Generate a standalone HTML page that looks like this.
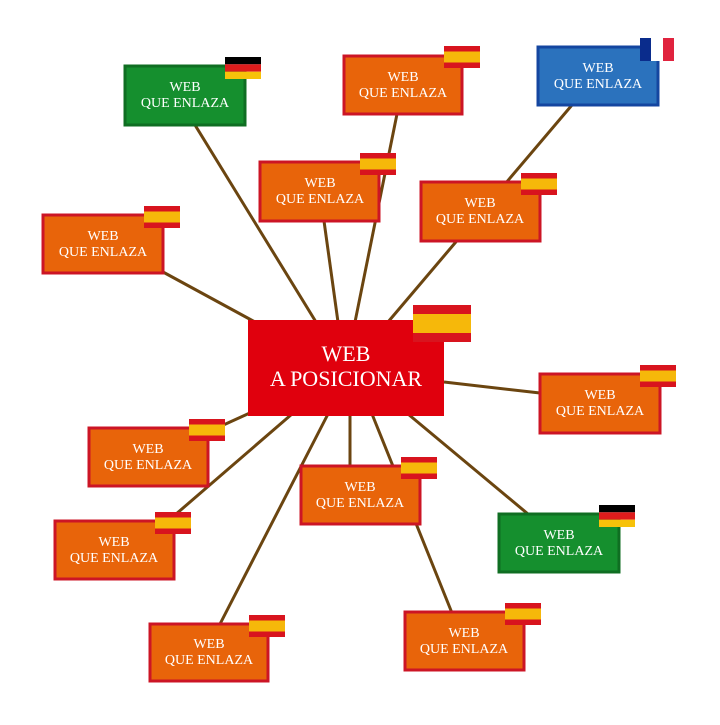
<!DOCTYPE html>
<html><head><meta charset="utf-8"><style>
body{margin:0;background:#fff;width:720px;height:720px;overflow:hidden}
svg text{font-family:"Liberation Serif",serif;fill:#fff;text-anchor:middle}
</style></head><body>
<svg width="720" height="720" viewBox="0 0 720 720" xmlns="http://www.w3.org/2000/svg">
<g stroke="#6b4510" stroke-width="3" fill="none">
<line x1="195" y1="125" x2="316" y2="322"/>
<line x1="397" y1="114" x2="355" y2="322"/>
<line x1="572" y1="105" x2="388" y2="322"/>
<line x1="324" y1="221" x2="338" y2="322"/>
<line x1="163" y1="272" x2="255" y2="322"/>
<line x1="540" y1="393" x2="444" y2="382"/>
<line x1="208" y1="432" x2="252" y2="412"/>
<line x1="350" y1="466" x2="350" y2="414"/>
<line x1="372" y1="414" x2="452" y2="613"/>
<line x1="408" y1="414" x2="528" y2="514"/>
<line x1="168" y1="521" x2="292" y2="414"/>
<line x1="220" y1="624" x2="328" y2="414"/>
</g>
<g stroke-width="3">
<rect x="125" y="66" width="120" height="59" fill="#158f2e" stroke="#0f6e22"/>
<rect x="344" y="56" width="118" height="58" fill="#e8640a" stroke="#cc1525"/>
<rect x="538" y="47" width="120" height="58" fill="#2b72bd" stroke="#1446a0"/>
<rect x="260" y="162" width="119" height="59" fill="#e8640a" stroke="#cc1525"/>
<rect x="421" y="182" width="119" height="59" fill="#e8640a" stroke="#cc1525"/>
<rect x="43" y="215" width="120" height="58" fill="#e8640a" stroke="#cc1525"/>
<rect x="540" y="374" width="120" height="59" fill="#e8640a" stroke="#cc1525"/>
<rect x="89" y="428" width="119" height="58" fill="#e8640a" stroke="#cc1525"/>
<rect x="301" y="466" width="119" height="58" fill="#e8640a" stroke="#cc1525"/>
<rect x="499" y="514" width="120" height="58" fill="#158f2e" stroke="#0f6e22"/>
<rect x="55" y="521" width="119" height="58" fill="#e8640a" stroke="#cc1525"/>
<rect x="150" y="624" width="118" height="57" fill="#e8640a" stroke="#cc1525"/>
<rect x="405" y="612" width="119" height="58" fill="#e8640a" stroke="#cc1525"/>
</g>
<rect x="248" y="320" width="196" height="96" fill="#e0000d"/>
<defs>
<g id="es"><rect width="36" height="22" fill="#d8141e"/><rect y="5.5" width="36" height="11" fill="#f6b80a"/></g>
<g id="de"><rect width="36" height="7.3" fill="#000"/><rect y="7.3" width="36" height="7.4" fill="#dd1c1c"/><rect y="14.7" width="36" height="7.3" fill="#f7c20a"/></g>
</defs>
<use href="#de" x="225" y="57"/>
<use href="#es" x="444" y="46"/>
<rect x="640" y="38" width="11" height="23" fill="#0a2c8c"/><rect x="651" y="38" width="12" height="23" fill="#fff"/><rect x="663" y="38" width="11" height="23" fill="#e0233e"/>
<use href="#es" x="360" y="153"/>
<use href="#es" x="521" y="173"/>
<use href="#es" x="144" y="206"/>
<use href="#es" x="640" y="365"/>
<use href="#es" x="189" y="419"/>
<use href="#es" x="401" y="457"/>
<use href="#de" x="599" y="505"/>
<use href="#es" x="155" y="512"/>
<use href="#es" x="249" y="615"/>
<use href="#es" x="505" y="603"/>
<rect x="413" y="305" width="58" height="37" fill="#d8141e"/><rect x="413" y="314" width="58" height="19" fill="#f6b80a"/>
<g font-size="14">
<text x="185" y="91">WEB</text><text x="185" y="107">QUE ENLAZA</text>
<text x="403" y="81">WEB</text><text x="403" y="97">QUE ENLAZA</text>
<text x="598" y="72">WEB</text><text x="598" y="88">QUE ENLAZA</text>
<text x="320" y="187">WEB</text><text x="320" y="203">QUE ENLAZA</text>
<text x="480" y="207">WEB</text><text x="480" y="223">QUE ENLAZA</text>
<text x="103" y="240">WEB</text><text x="103" y="256">QUE ENLAZA</text>
<text x="600" y="399">WEB</text><text x="600" y="415">QUE ENLAZA</text>
<text x="148" y="453">WEB</text><text x="148" y="469">QUE ENLAZA</text>
<text x="360" y="491">WEB</text><text x="360" y="507">QUE ENLAZA</text>
<text x="559" y="539">WEB</text><text x="559" y="555">QUE ENLAZA</text>
<text x="114" y="546">WEB</text><text x="114" y="562">QUE ENLAZA</text>
<text x="209" y="648">WEB</text><text x="209" y="664">QUE ENLAZA</text>
<text x="464" y="637">WEB</text><text x="464" y="653">QUE ENLAZA</text>
</g>
<g font-size="22">
<text x="346" y="361">WEB</text><text x="346" y="386">A POSICIONAR</text>
</g>
</svg>
</body></html>
